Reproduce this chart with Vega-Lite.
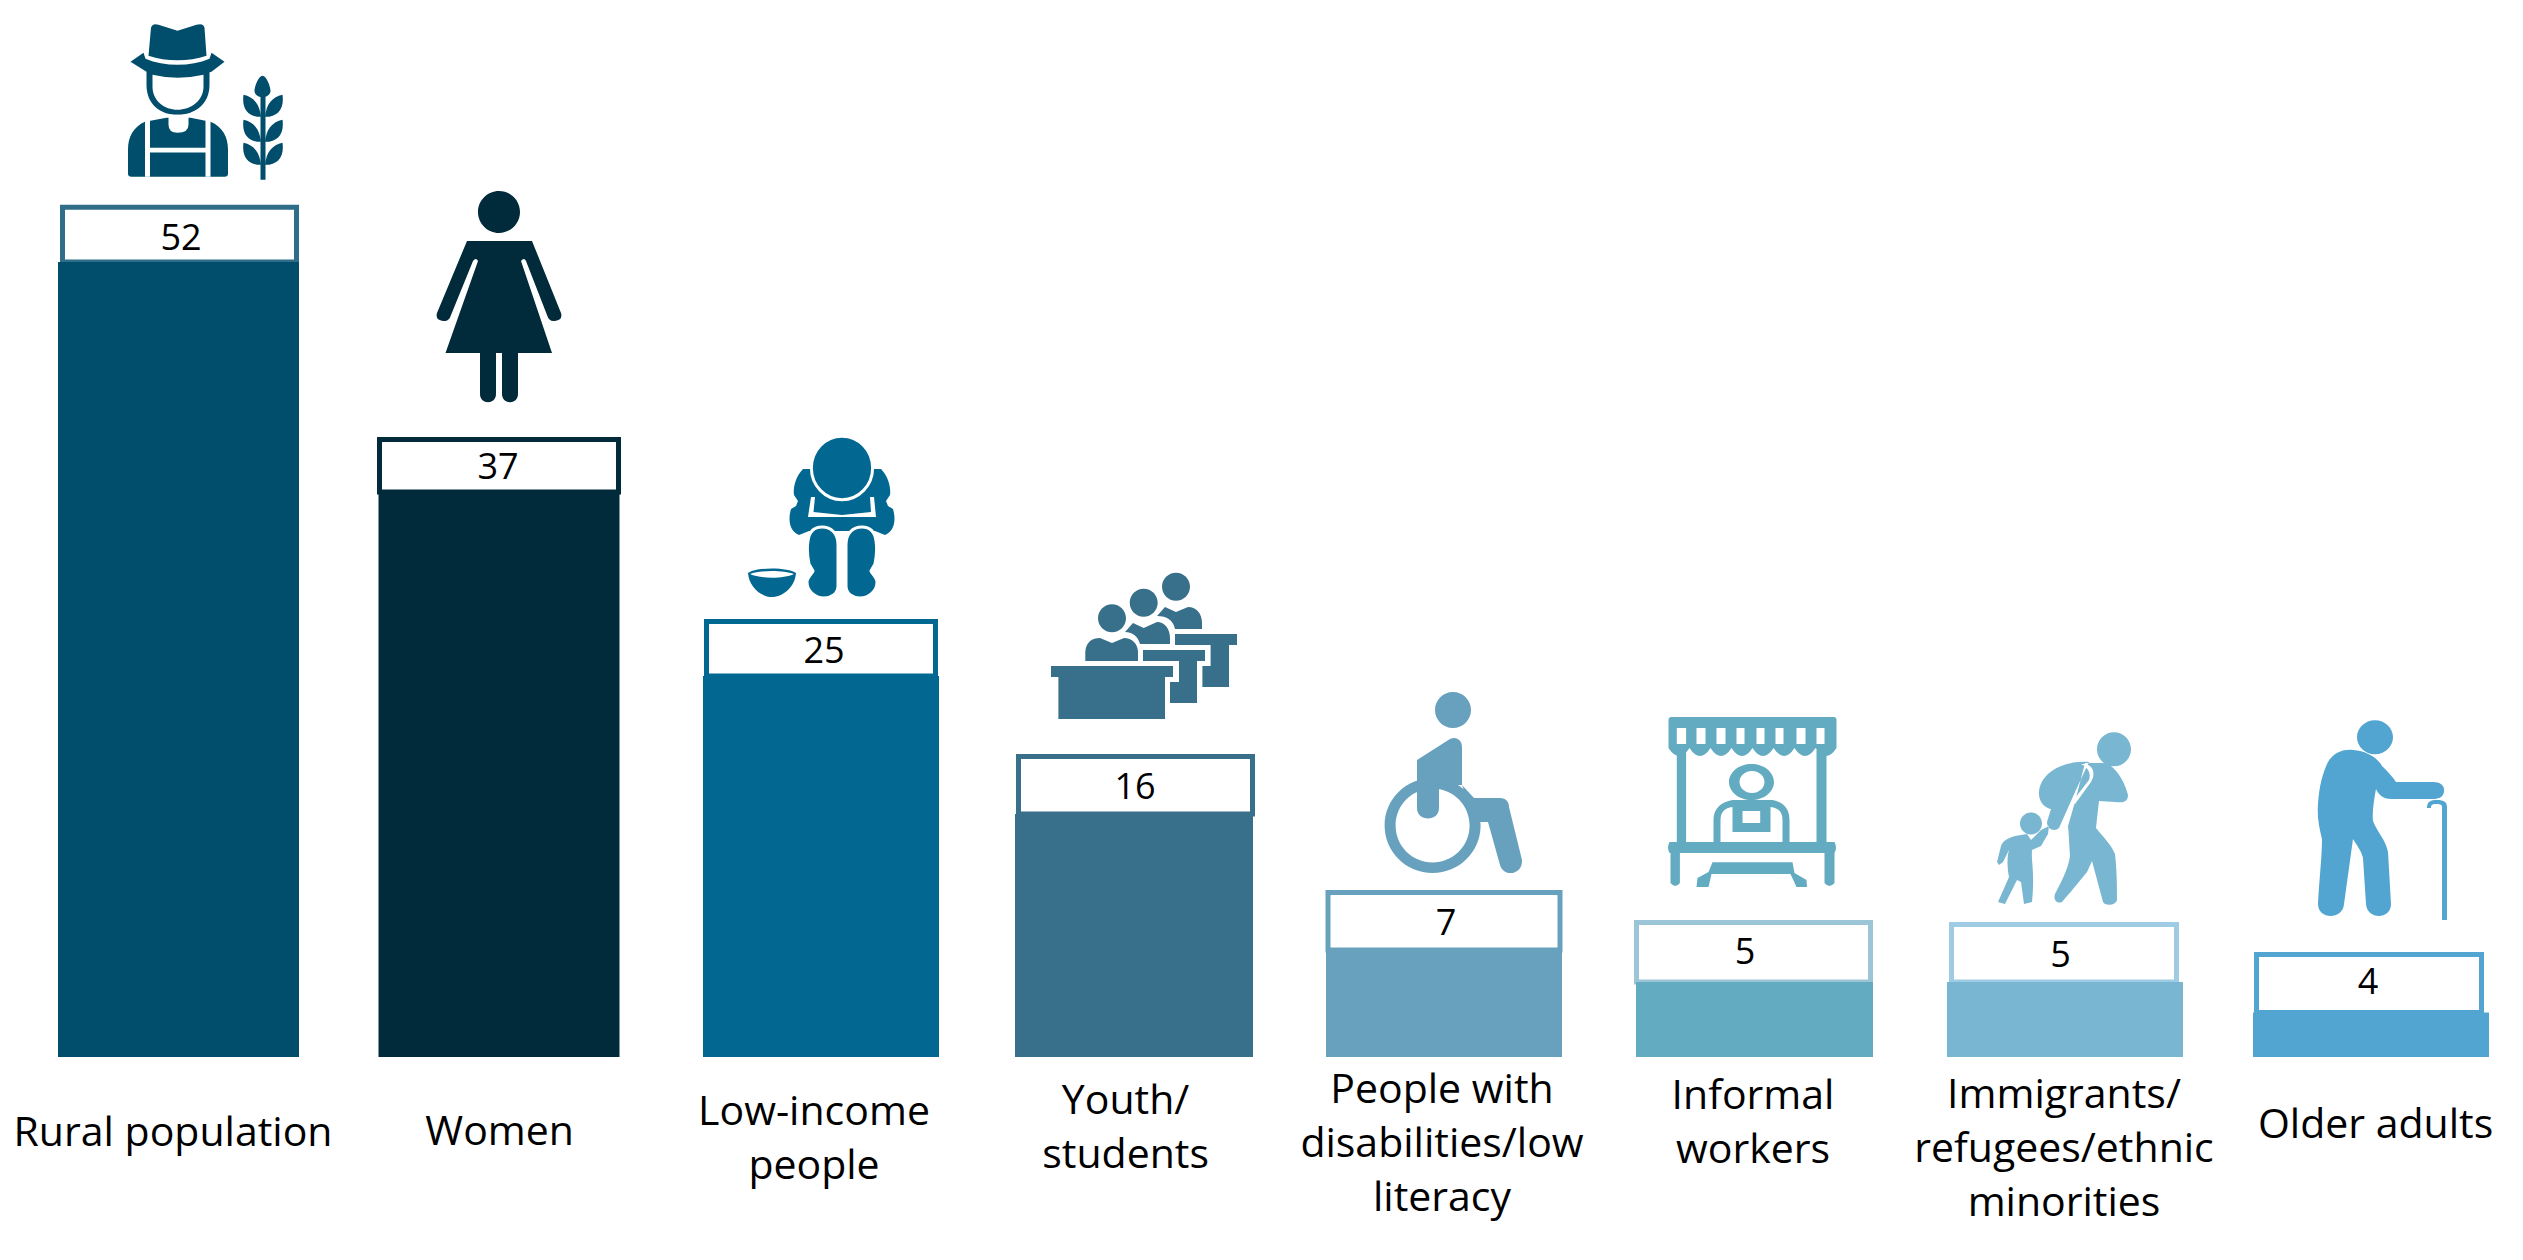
{"$schema":"https://vega.github.io/schema/vega-lite/v6.json","width":2523,"height":1260,"autosize":{"type":"fit","contains":"padding"},"padding":0,"background":"#ffffff","view":{"stroke":null},
"data":{"values":[
{"order":1,"group":"Rural population","label":"Rural population","value":52,"barHeight":52.06,"boxHeight":55.64},
{"order":2,"group":"Women","label":"Women","value":37,"barHeight":37.0,"boxHeight":40.44},
{"order":3,"group":"Low-income people","label":"Low-income\npeople","value":25,"barHeight":24.95,"boxHeight":28.52},
{"order":4,"group":"Youth/students","label":"Youth/\nstudents","value":16,"barHeight":15.91,"boxHeight":19.68},
{"order":5,"group":"People with disabilities/low literacy","label":"People with\ndisabilities/low\nliteracy","value":7,"barHeight":7.0,"boxHeight":10.78},
{"order":6,"group":"Informal workers","label":"Informal\nworkers","value":5,"barHeight":4.91,"boxHeight":8.81},
{"order":7,"group":"Immigrants/refugees/ethnic minorities","label":"Immigrants/\nrefugees/ethnic\nminorities","value":5,"barHeight":4.91,"boxHeight":8.68},
{"order":8,"group":"Older adults","label":"Older adults","value":4,"barHeight":2.91,"boxHeight":6.72}
]},
"resolve":{"scale":{"x":"independent","y":"independent","shape":"independent","size":"independent","stroke":"independent"}},
"layer":[
{"mark":{"type":"bar","orient":"vertical","strokeWidth":5,"fill":"#ffffff"},
"encoding":{
"x":{"field":"order","type":"quantitative","axis":null,"scale":{"domain":[1,2,3,4,5,6,7,8],"range":[179.5,499,821,1135.5,1444,1753.5,2064,2369],"nice":false,"zero":false,"padding":0}},
"y":{"field":"boxHeight","type":"quantitative","stack":null,"axis":null,"scale":{"domain":[0,69.22],"range":[1057,0],"nice":false,"padding":0}},
"y2":{"field":"barHeight"},
"size":{"field":"order","type":"quantitative","legend":null,"scale":{"domain":[1,2,3,4,5,6,7,8],"range":[234,239,229,234,232,234,225,225],"zero":false,"nice":false}},
"stroke":{"field":"group","type":"nominal","legend":null,"sort":null,"scale":{"domain":["Rural population","Women","Low-income people","Youth/students","People with disabilities/low literacy","Informal workers","Immigrants/refugees/ethnic minorities","Older adults"],"range":["#2f6d88","#012a3a","#026892","#38708c","#68a1bd","#9cc6d8","#a0cbe5","#52a5d1"]}}
}},
{"mark":{"type":"bar","orient":"vertical"},
"encoding":{
"x":{"field":"order","type":"quantitative","axis":null,"scale":{"domain":[1,2,3,4,5,6,7,8],"range":[178.5,499,821,1134,1444,1754.5,2065,2371],"nice":false,"zero":false,"padding":0}},
"y":{"field":"barHeight","type":"quantitative","stack":null,"axis":null,"scale":{"domain":[0,69.22],"range":[1057,0],"nice":false,"padding":0}},
"size":{"field":"order","type":"quantitative","legend":null,"scale":{"domain":[1,2,3,4,5,6,7,8],"range":[241,241,236,238,236,237,236,236],"zero":false,"nice":false}},
"fill":{"field":"group","type":"nominal","legend":null,"scale":{"domain":["Rural population","Women","Low-income people","Youth/students","People with disabilities/low literacy","Informal workers","Immigrants/refugees/ethnic minorities","Older adults"],"range":["#014e6c","#012a3a","#026892","#38708c","#68a1bd","#63abc1","#79b6d1","#52a5d1"]}}
}},
{"mark":{"type":"point","filled":true,"size":4,"opacity":1,"yOffset":-2.5},
"encoding":{
"x":{"field":"order","type":"quantitative","axis":null,"scale":{"domain":[1,2,3,4,5,6,7,8],"range":[178.5,499,821,1134,1444,1754.5,2065,2371],"nice":false,"zero":false,"padding":0}},
"y":{"field":"boxHeight","type":"quantitative","axis":null,"scale":{"domain":[0,69.22],"range":[1057,0],"nice":false,"padding":0}},
"fill":{"field":"group","type":"nominal","legend":null,"scale":{"domain":["Rural population","Women","Low-income people","Youth/students","People with disabilities/low literacy","Informal workers","Immigrants/refugees/ethnic minorities","Older adults"],"range":["#014e6c","#012a3a","#026892","#38708c","#68a1bd","#63abc1","#79b6d1","#52a5d1"]}},
"shape":{"field":"group","type":"nominal","legend":null,"scale":{"domain":["Rural population","Women","Low-income people","Youth/students","People with disabilities/low literacy","Informal workers","Immigrants/refugees/ethnic minorities","Older adults"],"range":[
"M-27.5,-177 Q-26,-182 -20,-180 L-1,-174 L18,-180 Q25,-182 26,-177 L28,-149 C10,-143 -12,-143 -30,-149 Z M-35,-152 L-48,-143 L-32,-133 C-20,-127 18,-127 33,-133 L46,-143 L33,-152 L31,-146 C12,-138 -14,-138 -33,-146 Z M-32,-133 L-32,-120 C-32,-100 -18,-90 -1,-90 C16,-90 31,-100 31,-120 L31,-133 Z M-33.5,-83 C-45,-78 -50.5,-68 -50.5,-55 L-50.5,-31 Q-50.5,-28 -47,-28 L46,-28 Q49.5,-28 49.5,-31 L49.5,-55 C49.5,-68 44,-78 32,-83 L12,-87 L-12,-87 Z M82,-109 L87,-109 L87,-25 L82,-25 Z M84,-129 C88,-129 92,-118 92,-114 C92,-110 88,-108 84,-107 C80,-108 76,-110 76,-114 C76,-118 80,-129 84,-129 Z M65,-110 C75,-108 82,-100 82,-88 C70,-88 63,-96 65,-110 Z M104,-110 C94,-108 87,-100 87,-88 C99,-88 106,-96 104,-110 Z M65,-85 C75,-83 82,-75 82,-63 C70,-63 63,-71 65,-85 Z M104,-85 C94,-83 87,-75 87,-63 C99,-63 106,-71 104,-85 Z M65,-62 C75,-60 82,-52 82,-40 C70,-40 63,-48 65,-62 Z M104,-62 C94,-60 87,-52 87,-40 C99,-40 106,-48 104,-62 Z",
"M-21,-225 A21,21 0 1,1 21,-225 A21,21 0 1,1 -21,-225 Z M-32,-196 L33,-196 L62,-124 Q64,-117 56,-116 Q50,-115 48,-122 L27,-176 Q25,-180 22,-176 L53,-84 L-53.5,-84 L-21,-176 Q-23,-180 -26,-176 L-48,-122 Q-50,-115 -56,-116 Q-64,-117 -62,-124 Z M-19,-84 L-3,-84 L-3,-43 C-3,-32 -19,-32 -19,-43 Z M3,-84 L19,-84 L19,-43 C19,-32 3,-32 3,-43 Z",
"M-18,-150 C-26,-142 -28,-130 -27,-124 L-23,-118 L-25,-113 L-30,-110 C-33,-100 -32,-88 -22,-84 L-12,-88 L54,-88 L64,-84 C74,-88 75,-100 72,-110 L67,-113 L65,-118 L69,-124 C70,-130 68,-142 60,-150 Z M-73,-46 C-65,-52 -33,-52 -25,-46 C-26,-32 -38,-22 -49,-22 C-60,-22 -72,-32 -73,-46 Z",
"M-83,-88 L39,-88 L39,-77 L31,-77 L31,-35 L-75.6,-35 L-75.6,-77 L-83,-77 Z M-8,-135.7 A14,14 0 1,1 -36,-135.7 A14,14 0 1,1 -8,-135.7 Z M-48.7,-93 L-48.7,-102 C-48,-112 -42,-116 -34,-116 L-22,-111 L-10,-116 C-2,-116 4,-110 4,-102 L4,-93 Z M23.7,-151.3 A14,14 0 1,1 -4.3,-151.3 A14,14 0 1,1 23.7,-151.3 Z M-9,-122 L-1,-131 L9.7,-126 L23,-132 C31,-132 36,-125 36,-116 L36,-110 L6,-110 C4,-118 -2,-122 -9,-122 Z M9,-104 L71,-104 L71,-93 L63,-93 L63,-51 L36,-51 L36,-72 L45,-72 L45,-93 L9,-93 Z M56,-167.3 A14,14 0 1,1 28,-167.3 A14,14 0 1,1 56,-167.3 Z M23,-138 L31,-147 L42,-142 L54,-147 C63,-147 68,-140 68,-131 L68,-125 L41,-125 C39,-134 33,-138 23,-138 Z M41,-120 L103,-120 L103,-109 L95,-109 L95,-67 L68.4,-67 L68.4,-88 L76.6,-88 L76.6,-109 L41,-109 Z",
"M-9,-180 A18,18 0 1,1 27,-180 A18,18 0 1,1 -9,-180 Z M6,-151 C12,-154 18,-150 18,-143 L18,-105 L-5,-105 L-5,-82 C-5,-68 -27,-68 -27,-82 L-27,-130 Z M18,-105 L30,-92 L56,-92 C62,-92 65,-88 65,-83 L78,-30 C79,-15 60,-12 56,-25 L44,-68 L32,-68 Z M-59.4,-64.5 A48,47.5 0 1,1 36.6,-64.5 A48,47.5 0 1,1 -59.4,-64.5 Z M-48.4,-64.5 A37,37 0 1,0 25.6,-64.5 A37,37 0 1,0 -48.4,-64.5 Z",
"M-86,-200 Q-86,-203 -83,-203 L79,-203 Q82,-203 82,-200 L82,-172 Q71.5,-156 61,-172 Q50.5,-156 40,-172 Q29.5,-156 19,-172 Q8.5,-156 -2,-172 Q-12.5,-156 -23,-172 Q-33.5,-156 -44,-172 Q-54.5,-156 -65,-172 Q-75.5,-156 -86,-172 Z M-77.7,-170 L-68.4,-170 L-68.4,-77 L-77.7,-77 Z M62,-170 L72,-170 L72,-77 L62,-77 Z M-41,-77 L-41,-100 C-41,-112 -33,-118 -22,-120 L18,-120 C28,-118 35,-112 35,-100 L35,-77 L28,-77 L28,-100 C28,-108 24,-112 16,-113 L16,-88 L-22,-88 L-22,-113 C-30,-112 -34,-108 -34,-100 L-34,-77 Z M-85,-78 L80,-78 Q83,-72 80,-67 L-85,-67 Q-88,-72 -85,-78 Z M-84,-67 L-74.6,-67 L-74.6,-37 Q-79,-31 -84,-37 Z M70,-67 L80,-67 L80,-37 Q75,-31 70,-37 Z M-42,-57.6 L38,-57.6 L40,-47 L52,-40 L52.5,-33 L42,-33 L36,-46 L-43,-46 L-46,-33 L-58,-33 L-57,-42 L-46,-48 Z M-25.5,-138 A22.5,18 0 1,1 19.5,-138 A22.5,18 0 1,1 -25.5,-138 Z",
"M32,-172.6 A17,17 0 1,1 66,-172.6 A17,17 0 1,1 32,-172.6 Z M20,-159 L38,-159 C50,-158 60,-140 63,-127 C63,-120 58,-119 50,-120 L34,-121 C33,-112 32,-104 31,-94 C38,-85 46,-78 50,-68 C52,-50 52,-35 52,-22 C50,-16 40,-16 38,-20 L27,-61 L22,-50 C14,-40 4,-28 -3,-20 C-8,-18 -12,-22 -10,-28 C-4,-40 3,-52 5,-66 C4,-78 4,-88 3,-96 L10,-120 Z M24,-160 C0,-162 -26,-150 -26,-128 C-26,-120 -20,-114 -14,-113 L-18,-100 C-18,-92 -10,-90 -6,-94 L10,-130 Z M-23,-98.4 A11,11 0 1,1 -45,-98.4 A11,11 0 1,1 -23,-98.4 Z M-50,-86 L-38,-88 L-34,-82 L-24,-92 L-16,-96 L-17,-88 L-24,-76 L-33,-72 C-34,-60 -30,-50 -33,-20 L-41,-18 L-44,-40 L-48,-42 L-60,-18 L-67,-20 L-56,-45 C-58,-55 -58,-65 -56,-72 L-62,-60 L-66,-57 L-68,-60 L-64,-76 C-62,-82 -56,-84 -50,-86 Z",
"M22,-214.7 A18,17 0 1,1 -14,-214.7 A18,17 0 1,1 22,-214.7 Z M-18,-202 C-6,-201 5,-196 11,-186 C17,-180 22,-175 25,-170 L62,-170 C70,-170 74,-166 73,-160 C72,-155 68,-153 62,-153 L20,-153 C12,-153 7,-158 5,-163 C3,-152 1,-140 2,-131 C6,-120 15,-112 17,-100 L20,-48 C20,-32 -4,-32 -5,-48 L-8,-94 C-10,-102 -15,-108 -18,-113 L-27,-48 C-28,-32 -53,-32 -53,-48 C-52,-70 -49,-95 -49,-113 C-52,-125 -54,-135 -53,-148 C-52,-165 -48,-180 -43,-190 C-38,-198 -30,-203 -18,-202 Z M56,-144 C56,-151 60,-152 66,-152 C73,-152 76,-150 76,-145 L76,-32 L71,-32 L71,-145 C71,-148 68,-148 65,-148 C61,-148 60,-147 60,-144 Z"
]}}
}},
{"mark":{"type":"point","filled":true,"size":4,"opacity":1,"yOffset":-2.5,"fill":"#ffffff"},
"encoding":{
"x":{"field":"order","type":"quantitative","axis":null,"scale":{"domain":[1,2,3,4,5,6,7,8],"range":[178.5,499,821,1134,1444,1754.5,2065,2371],"nice":false,"zero":false,"padding":0}},
"y":{"field":"boxHeight","type":"quantitative","axis":null,"scale":{"domain":[0,69.22],"range":[1057,0],"nice":false,"padding":0}},
"shape":{"field":"group","type":"nominal","legend":null,"scale":{"domain":["Rural population","Women","Low-income people","Youth/students","People with disabilities/low literacy","Informal workers","Immigrants/refugees/ethnic minorities","Older adults"],"range":[
"M-26,-130 Q-1,-124 25,-130 L25,-118 C25,-104 12,-95 -1,-95 C-14,-95 -26,-104 -26,-118 Z M-33.5,-88 L-28.5,-88 L-28.5,-28 L-33.5,-28 Z M27,-88 L32,-88 L32,-28 L27,-28 Z M-28.5,-57 L27,-57 L27,-52.4 L-28.5,-52.4 Z M-10,-90 L10,-90 L10,-80 Q10,-72 -1,-72 Q-10,-72 -10,-80 Z",
"M0,0 L0,0 Z",
"M-10,-122 L-13,-102 L55,-102 L53,-122 L49,-122 L50,-107 L21,-104 L-7.5,-107 L-6,-122 Z M-71,-45 C-60,-40 -38,-40 -27,-45 C-38,-49 -60,-49 -71,-45 Z",
"M0,0 L0,0 Z",
"M0,0 L0,0 Z",
"M-77.7,-192 L-68.4,-192 L-68.4,-176 L-77.7,-176 Z M-58,-192 L-49,-192 L-49,-176 L-58,-176 Z M-38,-192 L-29,-192 L-29,-176 L-38,-176 Z M-18,-192 L-10,-192 L-10,-176 L-18,-176 Z M2,-192 L10,-192 L10,-176 L2,-176 Z M21,-192 L29,-192 L29,-176 L21,-176 Z M42,-192 L51,-192 L51,-176 L42,-176 Z M62,-192 L70,-192 L70,-176 L62,-176 Z M-15,-138 A12.5,11 0 1,1 10,-138 A12.5,11 0 1,1 -15,-138 Z M-12,-109 L5.7,-109 L5.7,-97 L-12,-97 Z",
"M16,-158 L20,-158 C30,-156 30,-146 26,-140 L10,-118 L7,-120 L24,-142 C26,-148 24,-154 16,-158 Z",
"M0,0 L0,0 Z"
]}}
}},
{"mark":{"type":"point","filled":true,"size":4,"opacity":1,"yOffset":-2.5,"stroke":"#ffffff","strokeWidth":3},
"encoding":{
"x":{"field":"order","type":"quantitative","axis":null,"scale":{"domain":[1,2,3,4,5,6,7,8],"range":[178.5,499,821,1134,1444,1754.5,2065,2371],"nice":false,"zero":false,"padding":0}},
"y":{"field":"boxHeight","type":"quantitative","axis":null,"scale":{"domain":[0,69.22],"range":[1057,0],"nice":false,"padding":0}},
"fill":{"field":"group","type":"nominal","legend":null,"scale":{"domain":["Rural population","Women","Low-income people","Youth/students","People with disabilities/low literacy","Informal workers","Immigrants/refugees/ethnic minorities","Older adults"],"range":["#014e6c","#012a3a","#026892","#38708c","#68a1bd","#63abc1","#79b6d1","#52a5d1"]}},
"shape":{"field":"group","type":"nominal","legend":null,"scale":{"domain":["Rural population","Women","Low-income people","Youth/students","People with disabilities/low literacy","Informal workers","Immigrants/refugees/ethnic minorities","Older adults"],"range":[
"M0,0 L0,0 Z",
"M0,0 L0,0 Z",
"M-9.6,-151 A30.6,31.7 0 1,1 51.6,-151 A30.6,31.7 0 1,1 -9.6,-151 Z M1,-92 C10,-92 17,-86 17,-74 L17,-33 C17,-25 10,-21 3,-21 C-6,-21 -14,-28 -14,-37 C-14,-42 -9,-45 -8,-48 L-12,-55 C-14,-65 -14,-72 -13,-78 C-12,-86 -8,-92 1,-92 Z M41,-92 C32,-92 25,-86 25,-74 L25,-33 C25,-25 32,-21 39,-21 C48,-21 56,-28 56,-37 C56,-42 51,-45 50,-48 L54,-55 C56,-65 56,-72 55,-78 C54,-86 50,-92 41,-92 Z",
"M0,0 L0,0 Z",
"M0,0 L0,0 Z",
"M0,0 L0,0 Z",
"M0,0 L0,0 Z",
"M0,0 L0,0 Z"
]}}
}},
{"mark":{"type":"text","font":"Open Sans","fontSize":36,"baseline":"middle","align":"center","color":"#000000"},
"encoding":{
"x":{"field":"order","type":"quantitative","axis":null,"scale":{"domain":[1,2,3,4,5,6,7,8],"range":[181,498,824,1135,1446,1745,2060.5,2368],"nice":false,"zero":false}},
"y":{"field":"order","type":"quantitative","axis":null,"scale":{"domain":[1,2,3,4,5,6,7,8],"range":[238.5,467.5,651.5,787.5,923.5,952.5,955.5,982.5],"nice":false,"zero":false}},
"text":{"field":"value","type":"quantitative"}
}},
{"mark":{"type":"text","font":"Open Sans","fontSize":41,"lineHeight":54,"lineBreak":"\n","baseline":"middle","align":"center","color":"#000000"},
"encoding":{
"x":{"field":"order","type":"quantitative","axis":null,"scale":{"domain":[1,2,3,4,5,6,7,8],"range":[173,499.6,814,1125.6,1442,1753,2064,2375.6],"nice":false,"zero":false}},
"y":{"field":"order","type":"quantitative","axis":null,"scale":{"domain":[1,2,3,4,5,6,7,8],"range":[1134,1133,1113,1102,1091,1097,1096,1126],"nice":false,"zero":false}},
"text":{"field":"label","type":"nominal"}
}}
]}
